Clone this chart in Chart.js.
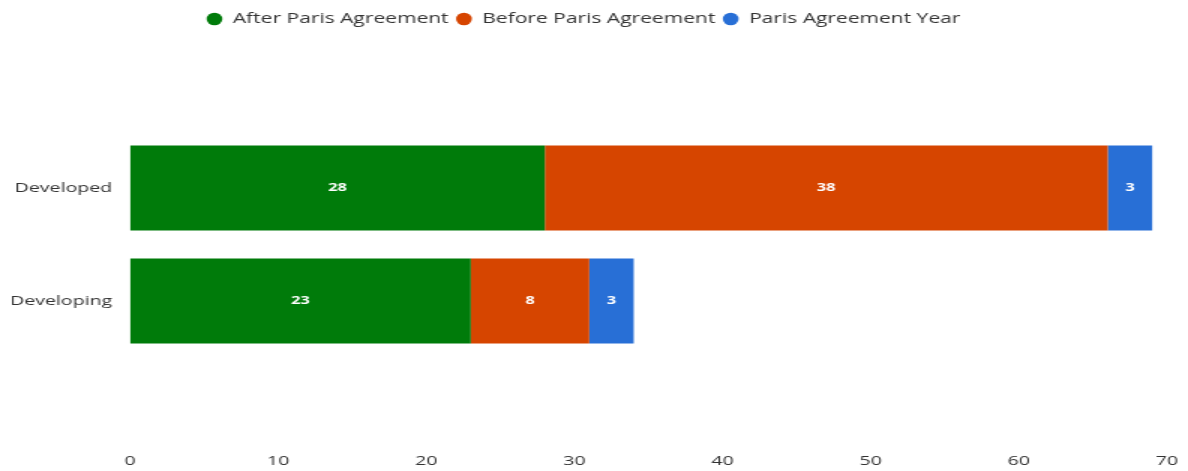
<!DOCTYPE html>
<html>
<head>
<meta charset="utf-8">
<script src="https://cdn.jsdelivr.net/npm/chart.js@4.4.1/dist/chart.umd.min.js"></script>
<style>
  html, body { margin: 0; padding: 0; background: #fff; overflow: hidden; }
  #wrap { width: 792px; height: 471px; transform: scaleX(1.5); transform-origin: 0 0; }
  canvas { display: block; }
</style>
</head>
<body>
<div id="wrap"><canvas id="c" width="792" height="471"></canvas></div>
<script>
const categories = ['Developed', 'Developing'];
const afterParis = [28, 23];
const beforeParis = [38, 8];
const parisYear = [3, 3];
const seriesNames = ['After Paris Agreement', 'Before Paris Agreement', 'Paris Agreement Year'];
const xTicks = [0, 10, 20, 30, 40, 50, 60, 70];
const seriesColors = ['rgb(0,123,10)', 'rgb(214,69,0)', 'rgb(40,111,214)'];

const FONT = '"Open Sans", sans-serif';

const legendBox = {
  id: 'legendBox',
  beforeInit(chart) {
    const lg = chart.legend;
    const orig = lg.fit;
    lg.fit = function () { orig.call(this); this.height = 124.5; };
  }
};

const valueLabels = {
  id: 'valueLabels',
  afterDatasetsDraw(chart) {
    const ctx = chart.ctx;
    ctx.save();
    ctx.fillStyle = '#ffffff';
    ctx.font = 'bold 11px ' + FONT;
    ctx.textAlign = 'center';
    ctx.textBaseline = 'middle';
    chart.data.datasets.forEach((ds, i) => {
      const meta = chart.getDatasetMeta(i);
      meta.data.forEach((bar, j) => {
        const v = ds.data[j];
        const x = (bar.x + bar.base) / 2;
        ctx.fillText(String(v), x, bar.y);
      });
    });
    ctx.restore();
  }
};

new Chart(document.getElementById('c'), {
  type: 'bar',
  data: {
    labels: categories,
    datasets: [
      { label: seriesNames[0], data: afterParis, backgroundColor: seriesColors[0] },
      { label: seriesNames[1], data: beforeParis, backgroundColor: seriesColors[1] },
      { label: seriesNames[2], data: parisYear, backgroundColor: seriesColors[2] }
    ]
  },
  options: {
    indexAxis: 'y',
    responsive: false,
    animation: false,
    devicePixelRatio: 1,
    layout: { padding: { left: 0, right: 14, top: 7, bottom: 0 } },
    datasets: { bar: { categoryPercentage: 1, barPercentage: 0.752 } },
    scales: {
      x: {
        stacked: true, min: xTicks[0], max: xTicks[xTicks.length - 1],
        afterBuildTicks(scale) { scale.ticks = xTicks.map(v => ({ value: v })); },
        afterFit(scale) { scale.height = 113.5; scale.paddingLeft = 0; scale.paddingRight = 0; },
        ticks: { color: '#333', font: { family: FONT, size: 13 }, padding: 88 },
        grid: { display: false }, border: { display: false }
      },
      y: {
        stacked: true,
        afterFit(scale) { scale.width = 86.7; },
        ticks: { color: '#333', font: { family: FONT, size: 13 }, padding: 4 },
        grid: { display: false }, border: { display: false }
      }
    },
    plugins: {
      legend: {
        position: 'top',
        labels: {
          usePointStyle: true, pointStyle: 'circle', boxHeight: 9, pointStyleWidth: 10.5,
          padding: 5, color: '#333', font: { family: FONT, size: 14 }
        }
      },
      tooltip: { enabled: false }
    }
  },
  plugins: [legendBox, valueLabels]
});
</script>
</body>
</html>
